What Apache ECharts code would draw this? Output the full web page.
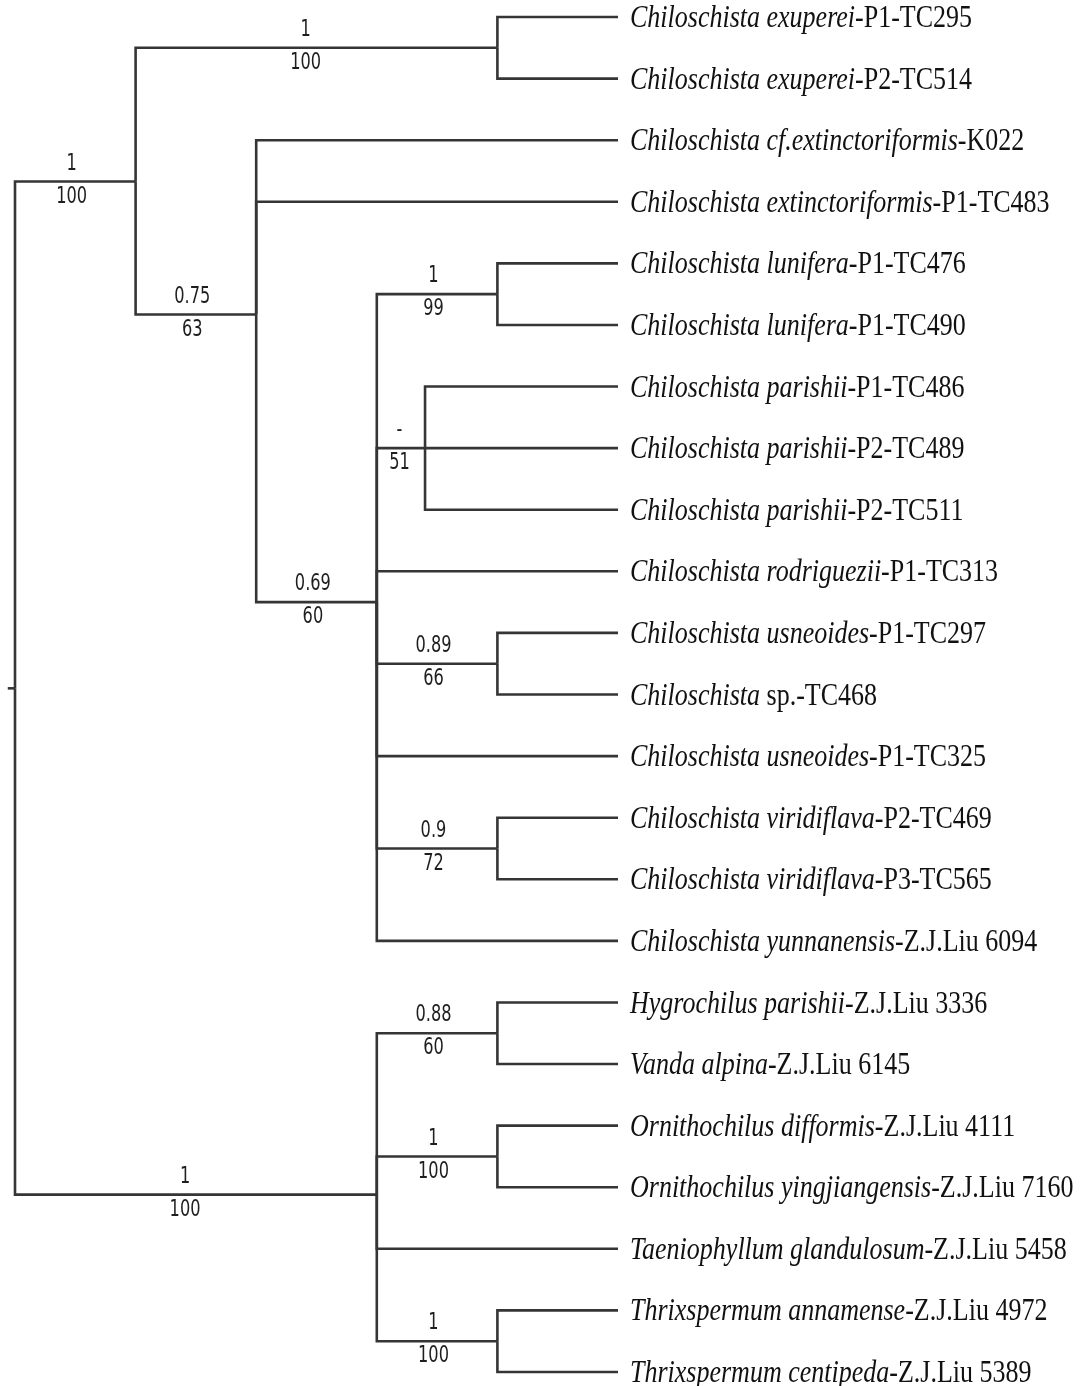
<!DOCTYPE html>
<html>
<head>
<meta charset="utf-8">
<title>Chiloschista tree</title>
<script src="https://cdn.jsdelivr.net/npm/echarts@6.0.0/dist/echarts.min.js"></script>
<style>
  html, body { margin: 0; padding: 0; background: #fff; }
  #maindiv { width: 1085px; height: 1386px; }
</style>
</head>
<body>
<div id="maindiv"></div>
<script>
// tips, top to bottom (row = index)
var tipItalic = [
    'Chiloschista exuperei', 'Chiloschista exuperei',
    'Chiloschista cf.extinctoriformis', 'Chiloschista extinctoriformis',
    'Chiloschista lunifera', 'Chiloschista lunifera',
    'Chiloschista parishii', 'Chiloschista parishii', 'Chiloschista parishii',
    'Chiloschista rodriguezii',
    'Chiloschista usneoides', 'Chiloschista',
    'Chiloschista usneoides',
    'Chiloschista viridiflava', 'Chiloschista viridiflava',
    'Chiloschista yunnanensis',
    'Hygrochilus parishii', 'Vanda alpina',
    'Ornithochilus difformis', 'Ornithochilus yingjiangensis',
    'Taeniophyllum glandulosum',
    'Thrixspermum annamense', 'Thrixspermum centipeda'
];
var tipRoman = [
    '-P1-TC295', '-P2-TC514',
    '-K022', '-P1-TC483',
    '-P1-TC476', '-P1-TC490',
    '-P1-TC486', '-P2-TC489', '-P2-TC511',
    '-P1-TC313',
    '-P1-TC297', ' sp.-TC468',
    '-P1-TC325',
    '-P2-TC469', '-P3-TC565',
    '-Z.J.Liu 6094',
    '-Z.J.Liu 3336', '-Z.J.Liu 6145',
    '-Z.J.Liu 4111', '-Z.J.Liu 7160',
    '-Z.J.Liu 5458',
    '-Z.J.Liu 4972', '-Z.J.Liu 5389'
];
var tipParent = [
    'exu', 'exu', 'ext', 'ext', 'lun', 'lun', 'par', 'par', 'par', 'core',
    'usn', 'usn', 'core', 'vir', 'vir', 'core',
    'hyg', 'hyg', 'orn', 'orn', 'out', 'thr', 'thr'
];
var tipDepth = 10;

// internal nodes
var nodeName   = ['root', 'chilo', 'exu', 'ext', 'core', 'lun', 'par', 'usn', 'vir', 'out', 'hyg', 'orn', 'thr'];
var nodeParent = [null, 'root', 'chilo', 'chilo', 'ext', 'core', 'core', 'core', 'core', 'root', 'out', 'out', 'out'];
var nodeDepth  = [0, 2, 8, 4, 6, 8, 6.8, 8, 8, 6, 8, 8, 8];
var nodeRow    = [10.9, 2.67, 0.5, 4.83, 9.5, 4.5, 7, 10.5, 13.5, 19.12, 16.5, 18.5, 21.5];
var nodePP     = ['', '1', '1', '0.75', '0.69', '1', '-', '0.89', '0.9', '1', '0.88', '1', '1'];
var nodeBS     = ['', '100', '100', '63', '60', '99', '51', '66', '72', '100', '60', '100', '100'];
var rootStem   = -0.12;

var lineColor = '#353535';
var serifFont = '"Liberation Serif", "Times New Roman", serif';
var narrowFont = '"Liberation Sans Narrow", "DejaVu Sans Condensed", sans-serif';

var idx = {};
nodeName.forEach(function (n, i) { idx[n] = i; });

// edges: [parentDepth, parentRow, childDepth, childRow]
var edgeData = [];
var edgePP = [];
var edgeBS = [];
edgeData.push([rootStem, nodeRow[0], nodeDepth[0], nodeRow[0]]);
edgePP.push(''); edgeBS.push('');
for (var i = 1; i < nodeName.length; i++) {
    var p = idx[nodeParent[i]];
    edgeData.push([nodeDepth[p], nodeRow[p], nodeDepth[i], nodeRow[i]]);
    edgePP.push(nodePP[i]);
    edgeBS.push(nodeBS[i]);
}
for (var t = 0; t < tipItalic.length; t++) {
    var q = idx[tipParent[t]];
    edgeData.push([nodeDepth[q], nodeRow[q], tipDepth, t]);
    edgePP.push(''); edgeBS.push('');
}
var tipData = tipItalic.map(function (s, k) { return [tipDepth, k]; });

var chart = echarts.init(document.getElementById('maindiv'));
chart.setOption({
    backgroundColor: '#fff',
    animation: false,
    grid: { left: 15, top: 17, width: 603, height: 1355 },
    xAxis: { type: 'value', min: 0, max: 10, show: false },
    yAxis: { type: 'value', min: 0, max: 22, inverse: true, show: false },
    series: [
        {
            type: 'custom',
            clip: false,
            encode: { x: [0, 2], y: [1, 3] },
            data: edgeData,
            renderItem: function (params, api) {
                var a = api.coord([api.value(0), api.value(1)]);
                var b = api.coord([api.value(2), api.value(3)]);
                var kids = [{
                    type: 'polyline',
                    shape: { points: [[a[0], a[1]], [a[0], b[1]], [b[0], b[1]]] },
                    style: { stroke: lineColor, lineWidth: 2.6, fill: null }
                }];
                var pp = edgePP[params.dataIndex];
                var bs = edgeBS[params.dataIndex];
                var mx = a[0] + 0.47 * (b[0] - a[0]);
                if (pp) {
                    kids.push({
                        type: 'text', x: mx, y: b[1] - 18, scaleY: 1.3,
                        style: { text: pp, fill: '#1e1e1e', font: '18px ' + narrowFont, align: 'center', verticalAlign: 'middle' }
                    });
                }
                if (bs) {
                    kids.push({
                        type: 'text', x: mx, y: b[1] + 15, scaleY: 1.3,
                        style: { text: bs, fill: '#1e1e1e', font: '18px ' + narrowFont, align: 'center', verticalAlign: 'middle' }
                    });
                }
                return { type: 'group', children: kids };
            }
        },
        {
            type: 'custom',
            clip: false,
            data: tipData,
            renderItem: function (params, api) {
                var pt = api.coord([api.value(0), api.value(1)]);
                var k = params.dataIndex;
                return {
                    type: 'text', x: pt[0] + 12, y: pt[1] + 2, scaleY: 1.18,
                    style: {
                        text: '{i|' + tipItalic[k] + '}{r|' + tipRoman[k] + '}',
                        align: 'left', verticalAlign: 'middle',
                        rich: {
                            i: { fontFamily: serifFont, fontSize: 26, fontStyle: 'italic', fill: '#111' },
                            r: { fontFamily: serifFont, fontSize: 26, fill: '#111' }
                        }
                    }
                };
            }
        }
    ]
});
</script>
</body>
</html>
